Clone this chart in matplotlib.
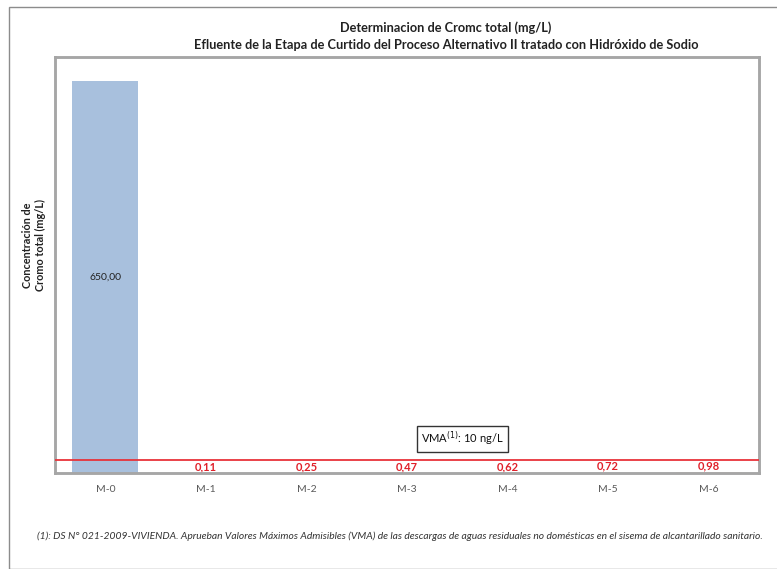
import matplotlib.pyplot as plt
from matplotlib.patches import Rectangle

categories = ["M-0", "M-1", "M-2", "M-3", "M-4", "M-5", "M-6"]
values = [650.00, 0.11, 0.25, 0.47, 0.62, 0.72, 0.98]
labels = ["650,00", "0,11", "0,25", "0,47", "0,62", "0,72", "0,98"]
vma = 10

W, H = 777, 569
fig = plt.figure(figsize=(W / 100, H / 100), dpi=100)
plt.rcParams['font.family'] = ['Lato', 'DejaVu Sans']

# outer chart border
fig.add_artist(Rectangle((9 / W, 0), 1, 1 - 7 / H, transform=fig.transFigure,
                         fill=False, edgecolor="#8c8c8c", lw=1.0))

left, right, top, bottom = 55, 759, 57, 473
ax = fig.add_axes([left / W, 1 - bottom / H, (right - left) / W, (bottom - top) / H])

x = list(range(len(categories)))
colors = ["#a8c0dd"] + ["#fbf3e4"] * (len(categories) - 1)
ax.bar(x, values, width=0.66, color=colors, edgecolor="none", zorder=2)
ax.set_xlim(-0.5, 6.5)
ax.set_ylim(0, 690)

ax.text(0, values[0] / 2, labels[0], ha="center", va="center", fontsize=7.5, color="#222222")
for xi, v, lab in zip(x[1:], values[1:], labels[1:]):
    ax.annotate(lab, (xi, v), xytext=(0, 4.5), textcoords="offset points",
                ha="center", va="center", fontsize=8, color="#e0202a",
                fontweight="bold", zorder=4)

# VMA reference line on its own secondary scale
ax2 = ax.twinx()
ax2.set_ylim(0, 320)
ax2.set_yticks([])
ax2.axhline(vma, color="#e8333a", lw=1.3, zorder=3)
ax2.annotate("VMA$^{(1)}$: 10 ng/L", (3.55, vma), xytext=(0, 15), textcoords="offset points",
             ha="center", va="center", fontsize=8, color="#111111",
             bbox=dict(boxstyle="square,pad=0.35", facecolor="white", edgecolor="#333333", lw=1.0))

ax.set_yticks([])
ax.set_xticks(x)
ax.set_xticklabels(categories, fontsize=7.5, color="#595959")
ax.tick_params(axis="x", length=0, pad=9)
for a in (ax, ax2):
    for s in a.spines.values():
        s.set_color("#a6a6a6")
        s.set_linewidth(1.8)

fig.text(446 / W, 1 - 28 / H, "Determinacion de Cromc total (mg/L)", ha="center", va="center",
         fontsize=9.2, fontweight="bold", color="#222222")
fig.text(446 / W, 1 - 45 / H,
         "Efluente de la Etapa de Curtido del Proceso Alternativo II tratado con Hidróxido de Sodio",
         ha="center", va="center", fontsize=9.2, fontweight="bold", color="#222222")

fig.text(34 / W, 1 - 245 / H, "Concentración de\nCromo total (mg/L)", rotation=90,
         ha="center", va="center", fontsize=7.8, fontweight="bold", color="#222222",
         linespacing=1.25)

fig.text(400 / W, 1 - 536 / H,
         "(1): DS N° 021-2009-VIVIENDA. Aprueban Valores Máximos Admisibles (VMA) de las descargas de aguas "
         "residuales no domésticas en el sisema de alcantarillado sanitario.",
         ha="center", va="center", fontsize=7.4, style="italic", color="#333333")

fig.savefig("out.png", dpi=100)
